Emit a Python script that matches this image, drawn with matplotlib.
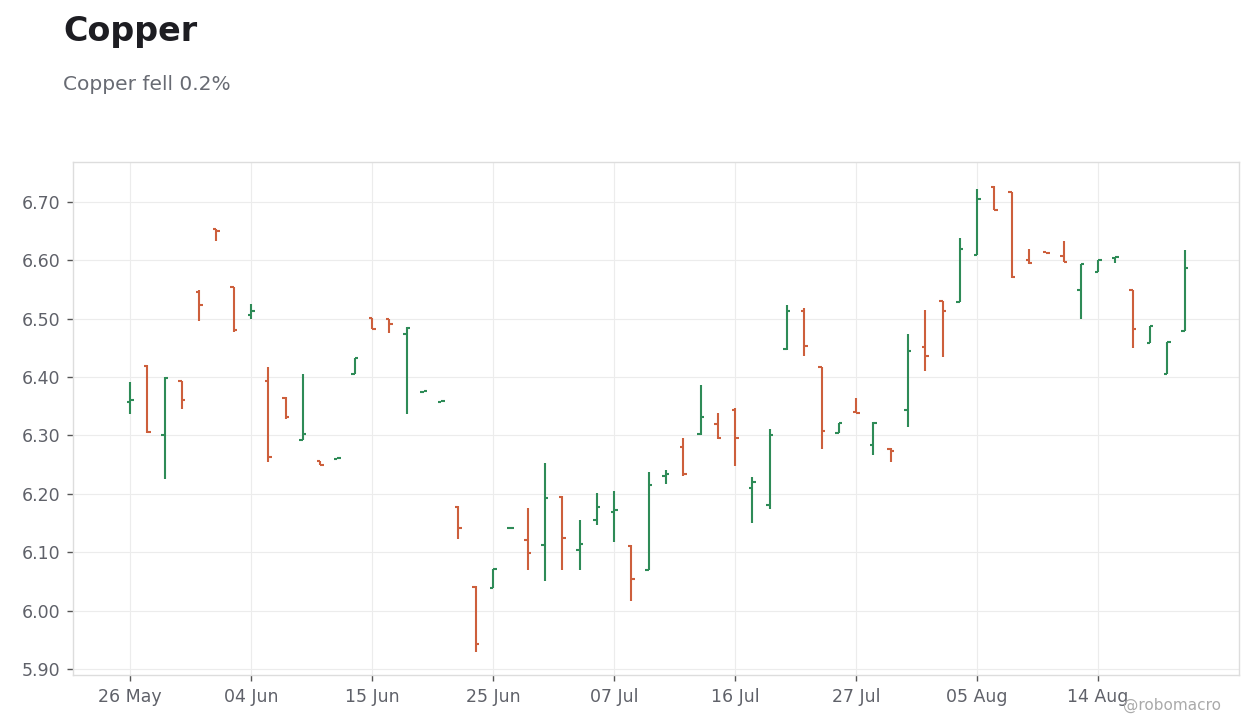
import matplotlib
matplotlib.use('Agg')
import matplotlib.pyplot as plt
import numpy as np

# Daily OHLC for copper
opens = [6.357, 6.419, 6.301, 6.393, 6.545, 6.653, 6.554, 6.506, 6.393, 6.365,
         6.293, 6.256, 6.260, 6.406, 6.501, 6.500, 6.474, 6.375, 6.358, 6.178,
         6.041, 6.039, 6.141, 6.121, 6.112, 6.195, 6.104, 6.155, 6.169, 6.111,
         6.069, 6.231, 6.281, 6.302, 6.319, 6.343, 6.210, 6.181, 6.448, 6.513,
         6.417, 6.305, 6.341, 6.284, 6.277, 6.344, 6.452, 6.531, 6.529, 6.610,
         6.726, 6.717, 6.600, 6.614, 6.607, 6.549, 6.580, 6.604, 6.550, 6.459,
         6.405, 6.479]
highs = [6.392, 6.420, 6.400, 6.394, 6.550, 6.654, 6.555, 6.526, 6.418, 6.366,
         6.406, 6.256, 6.261, 6.433, 6.502, 6.500, 6.485, 6.376, 6.359, 6.179,
         6.042, 6.072, 6.142, 6.175, 6.253, 6.196, 6.155, 6.201, 6.205, 6.112,
         6.237, 6.241, 6.296, 6.387, 6.339, 6.347, 6.229, 6.311, 6.523, 6.518,
         6.417, 6.322, 6.365, 6.323, 6.278, 6.474, 6.515, 6.531, 6.639, 6.723,
         6.728, 6.717, 6.620, 6.614, 6.634, 6.593, 6.600, 6.605, 6.550, 6.488,
         6.461, 6.618]
lows = [6.336, 6.305, 6.225, 6.346, 6.496, 6.634, 6.477, 6.500, 6.254, 6.329,
        6.293, 6.249, 6.260, 6.405, 6.482, 6.475, 6.336, 6.375, 6.358, 6.123,
        5.929, 6.038, 6.141, 6.070, 6.050, 6.070, 6.069, 6.147, 6.117, 6.016,
        6.069, 6.217, 6.231, 6.300, 6.294, 6.247, 6.150, 6.174, 6.447, 6.437,
        6.276, 6.304, 6.338, 6.267, 6.255, 6.315, 6.411, 6.435, 6.529, 6.609,
        6.686, 6.570, 6.594, 6.613, 6.597, 6.500, 6.580, 6.596, 6.450, 6.458,
        6.405, 6.479]
closes = [6.361, 6.306, 6.398, 6.360, 6.524, 6.651, 6.481, 6.513, 6.264, 6.331,
          6.303, 6.250, 6.261, 6.432, 6.483, 6.491, 6.484, 6.376, 6.359, 6.141,
          5.943, 6.072, 6.142, 6.099, 6.193, 6.124, 6.114, 6.178, 6.172, 6.054,
          6.215, 6.234, 6.234, 6.331, 6.295, 6.296, 6.221, 6.300, 6.513, 6.453,
          6.307, 6.321, 6.339, 6.322, 6.274, 6.445, 6.437, 6.514, 6.619, 6.705,
          6.687, 6.571, 6.595, 6.613, 6.598, 6.593, 6.600, 6.605, 6.482, 6.488,
          6.461, 6.587]

tick_labels = ['26 May', '04 Jun', '15 Jun', '25 Jun', '07 Jul',
               '16 Jul', '27 Jul', '05 Aug', '14 Aug']
bars_per_tick = 7

up_color = '#2e8b57'
down_color = '#cd5f3c'

x = np.arange(len(opens))
o = np.array(opens)
h = np.array(highs)
l = np.array(lows)
c = np.array(closes)
colors = [up_color if ci >= oi else down_color for oi, ci in zip(o, c)]

fig = plt.figure(figsize=(12.6, 7.28), dpi=100)
ax = fig.add_axes([73 / 1260, 53 / 728, 1166 / 1260, 513 / 728])

tw = 0.2  # open/close tick length in bar units
lw = 1.5
ax.vlines(x, l, h, colors=colors, linewidth=lw)
ax.hlines(o, x - tw, x, colors=colors, linewidth=lw)
ax.hlines(c, x, x + tw, colors=colors, linewidth=lw)

ax.set_xlim(-3.3, 64.15)
ax.set_ylim(5.8897, 6.7685)
ax.set_yticks(np.arange(5.9, 6.71, 0.1))
ax.set_yticklabels([f'{v:.2f}' for v in np.arange(5.9, 6.71, 0.1)])
ax.set_xticks(np.arange(len(tick_labels)) * bars_per_tick)
ax.set_xticklabels(tick_labels)

ax.grid(True, color='#ececec', linewidth=0.8)
ax.set_axisbelow(True)
for s in ax.spines.values():
    s.set_color('#dddddd')
    s.set_linewidth(1)
ax.tick_params(axis='both', colors='#5f6169', labelsize=12.5, length=4, width=1, pad=5)
ax.tick_params(axis='both', color='#555555')

fig.text(63 / 1260, 1 - 31 / 728, 'Copper', fontsize=24, fontweight='bold',
         color='#1d1d22', va='center', ha='left')
fig.text(63 / 1260, 1 - 85 / 728, 'Copper fell 0.2%', fontsize=14.5,
         color='#686b73', va='center', ha='left')
fig.text(1221 / 1260, 1 - 705 / 728, '@robomacro', fontsize=11,
         color='#aaaaaa', va='center', ha='right')

fig.savefig('out.png', dpi=100, facecolor='white')
